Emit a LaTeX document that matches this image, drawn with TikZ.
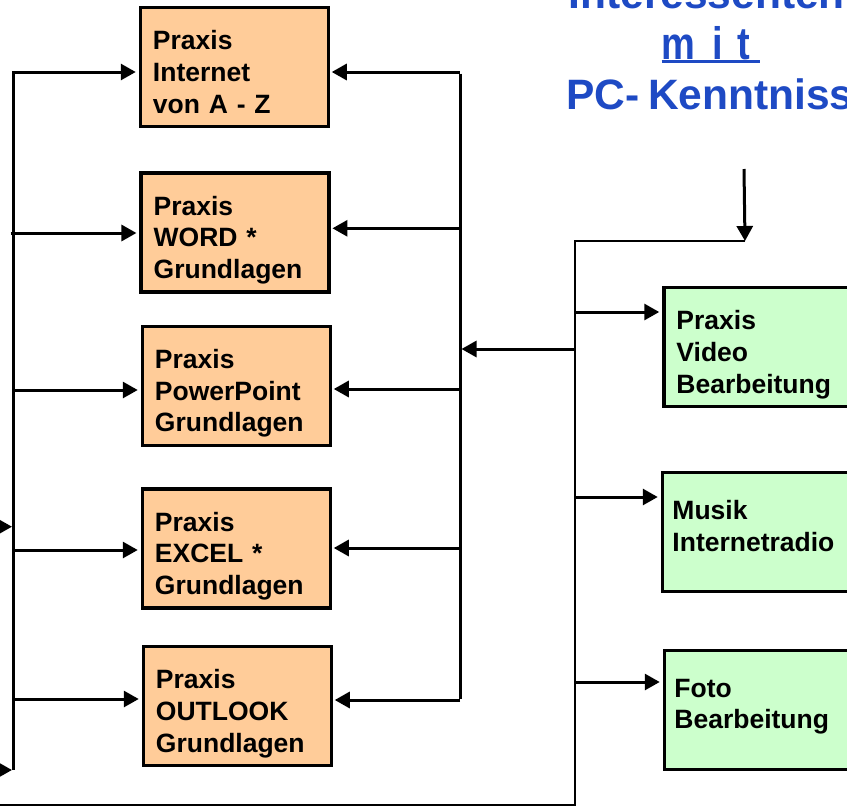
\documentclass[tikz,border=0pt]{standalone}
\usepackage{fontspec}
\usepackage{graphicx}
\setmainfont{Liberation Sans}
\usetikzlibrary{arrows.meta}
\definecolor{orangefill}{RGB}{255,204,153}
\definecolor{greenfill}{RGB}{204,255,204}
\definecolor{titleblue}{RGB}{30,74,196}
\begin{document}
\begin{tikzpicture}[x=1pt,y=-1pt,
  obox/.style={draw, line width=3.5pt, fill=orangefill, minimum width=188pt, minimum height=119pt, inner sep=0pt},
  gbox/.style={draw, line width=3.5pt, fill=greenfill, minimum width=250pt, minimum height=119pt, inner sep=0pt},
  btxt/.style={anchor=base west, inner sep=0pt, text width=180pt, align=left, font=\fontsize{26.5}{31.7}\selectfont\bfseries},
  conn/.style={line width=3pt},
  thin conn/.style={line width=2.5pt},
  arr/.style={line width=3pt, -{Triangle[length=15pt,width=16pt]}},
  ttxt/.style={inner sep=0pt, text=titleblue, font=\fontsize{42.5}{50}\selectfont\bfseries},
]
\useasboundingbox (0,0) rectangle (847,807);
\clip (0,0) rectangle (847,807);
\fill[white] (0,0) rectangle (847,807);

% orange boxes
\node[obox] (b1) at (234.5,67) {};
\node[obox] (b2) at (235.2,232.5) {};
\node[obox] (b3) at (236.5,385.8) {};
\node[obox] (b4) at (236.5,548.5) {};
\node[obox] (b5) at (237.5,706) {};
% green boxes
\node[gbox] (g1) at (789,347) {};
\node[gbox] (g2) at (787.5,532) {};
\node[gbox] (g3) at (789.5,709.8) {};

% box texts
\node[btxt] (t1) at ([xshift=14pt,yshift=-44pt]b1.north west) {Praxis\\Internet\\von A - Z};
\node[btxt] (t2) at ([xshift=14pt,yshift=-44pt]b2.north west) {Praxis\\WORD *\\Grundlagen};
\node[btxt] (t3) at ([xshift=14pt,yshift=-44pt]b3.north west) {Praxis\\PowerPoint\\Grundlagen};
\node[btxt] (t4) at ([xshift=14pt,yshift=-44pt]b4.north west) {Praxis\\EXCEL *\\Grundlagen};
\node[btxt] (t5) at ([xshift=14pt,yshift=-44pt]b5.north west) {Praxis\\OUTLOOK\\Grundlagen};
\node[btxt] (u1) at ([xshift=14pt,yshift=-44pt]g1.north west) {Praxis\\Video\\Bearbeitung};
\node[btxt] (u2) at ([xshift=11.5pt,yshift=-48.7pt]g2.north west) {Musik\\Internetradio};
\node[btxt] (u3) at ([xshift=11.5pt,yshift=-48.7pt]g3.north west) {Foto\\Bearbeitung};

% title
\node[ttxt, anchor=base east] (h1) at (845,8) {Interessenten};
\node[ttxt, anchor=base west, font=\fontsize{38}{44}\selectfont\bfseries] (h2) at (661.5,59) {\scalebox{1}[1.2]{m\hspace{17pt}i\hspace{14.5pt}t}};
\draw[titleblue, line width=2.5pt] ([yshift=-2.7pt]h2.base west) -- ++(98.5,0);
\node[ttxt, anchor=base west] (h3) at (565.8,109) {\spaceskip=9pt PC- Kenntnisse};

% left bus
\coordinate (L1) at (13.5,72);
\coordinate (L2) at (13.5,233);
\coordinate (L3) at (13.5,390);
\coordinate (L4) at (13.5,550);
\coordinate (L5) at (13.5,699);
\coordinate (Lb) at (13.5,770);
\coordinate (Lin) at (13.5,526.7);
\coordinate (E1) at (-10,526.7);
\coordinate (E2) at (-10,770);
\draw[arr, shorten >=3pt] (Lb) -- (L1) -- (L1 -| b1.west);
\draw[arr, shorten >=3pt] ([xshift=-3pt]L2) -- (L2 -| b2.west);
\draw[arr, shorten >=3pt] (L3) -- (L3 -| b3.west);
\draw[arr, shorten >=3pt] (L4) -- (L4 -| b4.west);
\draw[arr, shorten >=3pt] (L5) -- (L5 -| b5.west);
\draw[arr, shorten >=1.5pt] (E1) -- (Lin);
\draw[arr, shorten >=1.5pt] (E2) -- (Lb);

% right bus of orange boxes
\coordinate (R1) at (460,72);
\coordinate (R2) at (460,228.3);
\coordinate (R3) at (460,389);
\coordinate (R4) at (460,548);
\coordinate (R5) at (460,700);
\coordinate (R6) at (460,349);
\draw[conn] ([yshift=-1.5pt]R1) -- ([yshift=1.5pt]R5);
\draw[arr, shorten >=1.5pt] (R1) -- (R1 -| b1.east);
\draw[arr, shorten >=1.5pt] (R2) -- (R2 -| b2.east);
\draw[arr, shorten >=1.5pt] (R3) -- (R3 -| b3.east);
\draw[arr, shorten >=1.5pt] (R4) -- (R4 -| b4.east);
\draw[arr, shorten >=1.5pt] (R5) -- (R5 -| b5.east);

% middle bus
\coordinate (M0) at (575,241);
\coordinate (Mt) at (745,241);
\coordinate (Ain) at (744,169);
\coordinate (Mb) at (575,805);
\coordinate (Bl) at (-10,805);
\coordinate (M1) at (575,312);
\coordinate (M2) at (575,497);
\coordinate (M3) at (575,682);
\coordinate (M4) at (575,349);
\draw[thin conn] (Mt) -- (M0) -- (Mb) -- (Bl);
\draw[arr] (Ain) -- (Mt);
\draw[arr, shorten >=1.5pt] (M4) -- (R6);
\draw[arr, shorten >=3pt] (M1) -- (M1 -| g1.west);
\draw[arr, shorten >=3pt] (M2) -- (M2 -| g2.west);
\draw[arr, shorten >=3pt] (M3) -- (M3 -| g3.west);
\end{tikzpicture}
\end{document}
